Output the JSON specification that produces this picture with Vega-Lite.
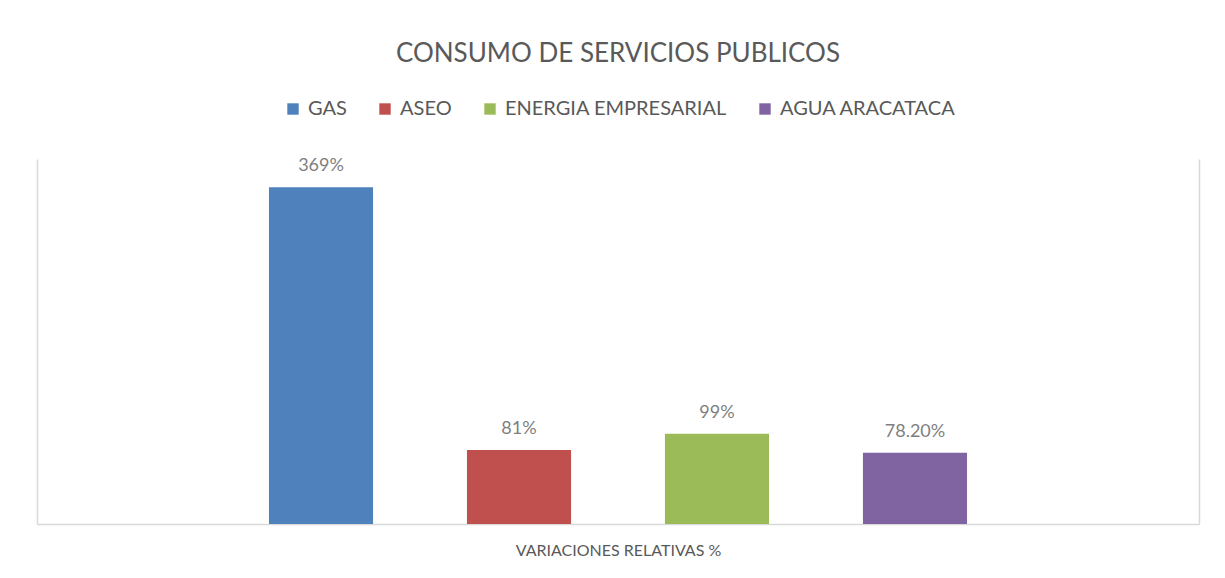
{
  "$schema": "https://vega.github.io/schema/vega-lite/v6.json",
  "width": 1162,
  "height": 365,
  "autosize": {"type": "none"},
  "padding": {"left": 37, "top": 159, "right": 26, "bottom": 54},
  "background": "white",
  "config": {
    "font": "Lato",
    "view": {"stroke": null}
  },
  "title": {
    "text": "CONSUMO DE SERVICIOS PUBLICOS",
    "fontSize": 26,
    "font": "Lato",
    "fontWeight": "normal",
    "color": "#595959",
    "anchor": "middle",
    "offset": 32
  },
  "data": {
    "values": [
      {"serie": "GAS", "valor": 369, "etiqueta": "369%"},
      {"serie": "ASEO", "valor": 81, "etiqueta": "81%"},
      {"serie": "ENERGIA EMPRESARIAL", "valor": 99, "etiqueta": "99%"},
      {"serie": "AGUA ARACATACA", "valor": 78.2, "etiqueta": "78.20%"}
    ]
  },
  "encoding": {
    "x": {
      "field": "serie",
      "type": "nominal",
      "sort": ["GAS", "ASEO", "ENERGIA EMPRESARIAL", "AGUA ARACATACA"],
      "scale": {"paddingInner": 0.131, "paddingOuter": 1},
      "axis": {
        "title": "VARIACIONES RELATIVAS %",
        "titleFontSize": 16,
        "titleFontWeight": "normal",
        "titleColor": "#595959",
        "titlePadding": 18,
        "labels": false,
        "ticks": false,
        "domainColor": "#d9d9d9",
        "domainWidth": 1.5
      }
    },
    "y": {
      "field": "valor",
      "type": "quantitative",
      "scale": {"domain": [0, 400], "nice": false}
    }
  },
  "layer": [
    {
      "mark": {"type": "bar", "width": {"band": 0.605}},
      "encoding": {
        "y": {
          "field": "valor",
          "type": "quantitative",
          "axis": {"orient": "left", "title": null, "labels": false, "ticks": false, "grid": false, "domainColor": "#d9d9d9", "domainWidth": 1.5}
        },
        "color": {
          "field": "serie",
          "type": "nominal",
          "sort": ["GAS", "ASEO", "ENERGIA EMPRESARIAL", "AGUA ARACATACA"],
          "scale": {
            "domain": ["GAS", "ASEO", "ENERGIA EMPRESARIAL", "AGUA ARACATACA"],
            "range": ["#4F81BD", "#C0504D", "#9BBB59", "#8064A2"]
          },
          "legend": {
            "orient": "none",
            "legendX": 246,
            "legendY": -60,
            "direction": "horizontal",
            "title": null,
            "symbolType": "square",
            "symbolSize": 130,
            "symbolStrokeWidth": 0,
            "labelFontSize": 20,
            "labelColor": "#595959",
            "labelFont": "Lato",
            "labelLimit": 400,
            "columnPadding": 28,
            "labelOffset": 5
          }
        }
      }
    },
    {
      "mark": {"type": "text", "baseline": "bottom", "dy": -12, "fontSize": 18, "color": "#7f7f7f"},
      "encoding": {
        "y": {
          "field": "valor",
          "type": "quantitative",
          "axis": {"orient": "right", "title": null, "labels": false, "ticks": false, "grid": false, "domainColor": "#d9d9d9", "domainWidth": 1.5}
        },
        "text": {"field": "etiqueta", "type": "nominal"}
      }
    }
  ]
}
